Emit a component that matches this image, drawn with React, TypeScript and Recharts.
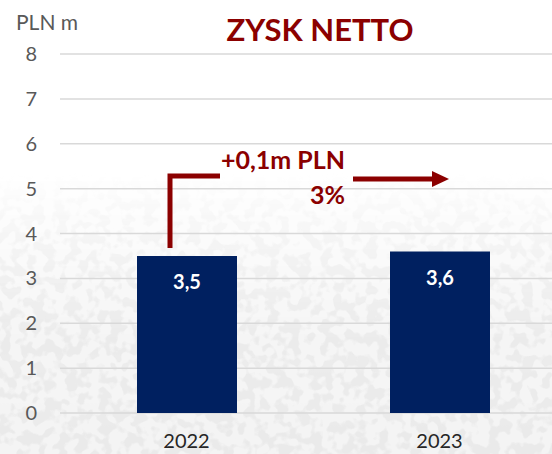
import { Bar, BarChart, CartesianGrid, LabelList, XAxis, YAxis } from "recharts"

const years = ["2022", "2023"]
const profit = [3.5, 3.6]
const yTicks = [0, 1, 2, 3, 4, 5, 6, 7, 8]

const data = years.map((year, i) => ({ year, value: profit[i] }))

const font = "Lato, 'Open Sans', sans-serif"
const red = "#8b0000"

export default function App() {
  return (
    <div
      style={{
        position: "fixed",
        left: 0,
        top: 0,
        width: 552,
        height: 454,
        overflow: "hidden",
        fontFamily: font,
        background: "#ffffff",
      }}
    >
      {/* textured backdrop, fading in towards the bottom */}
      <svg width={552} height={454} style={{ position: "absolute", left: 0, top: 0 }}>
        <defs>
          <filter id="grain" x="0" y="0" width="100%" height="100%">
            <feTurbulence type="fractalNoise" baseFrequency="0.09" numOctaves={2} seed={4} />
            <feColorMatrix
              type="matrix"
              values="0 0 0 0 0.82  0 0 0 0 0.82  0 0 0 0 0.82  0 0 0 9 -4.2"
            />
          </filter>
          <linearGradient id="fade" x1="0" y1="0" x2="0" y2="1">
            <stop offset="0.38" stopColor="#fff" stopOpacity={0} />
            <stop offset="0.75" stopColor="#fff" stopOpacity={0.9} />
            <stop offset="1" stopColor="#fff" stopOpacity={1} />
          </linearGradient>
          <mask id="fadeMask">
            <rect width={552} height={454} fill="url(#fade)" />
          </mask>
        </defs>
        <rect width={552} height={454} fill="#f4f4f4" mask="url(#fadeMask)" />
        <rect width={552} height={454} filter="url(#grain)" mask="url(#fadeMask)" />
      </svg>
      <div style={{ position: "absolute", left: 0, top: 0 }}>
        <BarChart
          width={566}
          height={454}
          data={data}
          margin={{ top: 54, right: 0, left: 0, bottom: 11 }}
          barSize={100}
        >
          <CartesianGrid vertical={false} stroke="#d9d9d9" strokeWidth={1.5} />
          <XAxis
            dataKey="year"
            axisLine={false}
            tickLine={false}
            tickMargin={15}
            tick={{ fill: "#262626", fontSize: 20, fontFamily: font }}
          />
          <YAxis
            width={60}
            domain={[0, 8]}
            ticks={yTicks}
            interval={0}
            axisLine={false}
            tickLine={false}
            tickMargin={17}
            tick={{ fill: "#595959", fontSize: 20, fontFamily: font }}
          />
          <Bar dataKey="value" fill="#002060" isAnimationActive={false}>
            <LabelList
              dataKey="value"
              position="insideTop"
              offset={19}
              formatter={(v: number) => String(v).replace(".", ",")}
              style={{ fill: "#ffffff", fontSize: 20, fontWeight: 700, fontFamily: font }}
            />
          </Bar>
        </BarChart>
      </div>
      <svg
        width={552}
        height={454}
        style={{ position: "absolute", left: 0, top: 0, pointerEvents: "none" }}
      >
        <text x={16} y={30} fontSize={21} fill="#595959" fontFamily={font}>
          PLN m
        </text>
        <text x={320} y={41} fontSize={31} fontWeight={700} fill={red} textAnchor="middle" fontFamily={font}>
          ZYSK NETTO
        </text>
        <polyline points="170,248 170,176 220,176" fill="none" stroke={red} strokeWidth={5} />
        <text x={345} y={169} fontSize={25} fontWeight={700} fill={red} textAnchor="end" fontFamily={font}>
          +0,1m PLN
        </text>
        <text x={345} y={204} fontSize={25} fontWeight={700} fill={red} textAnchor="end" fontFamily={font}>
          3%
        </text>
        <line x1={353} y1={179} x2={434} y2={179} stroke={red} strokeWidth={5} />
        <polygon points="432,171 449,179 432,187" fill={red} />
      </svg>
    </div>
  )
}
